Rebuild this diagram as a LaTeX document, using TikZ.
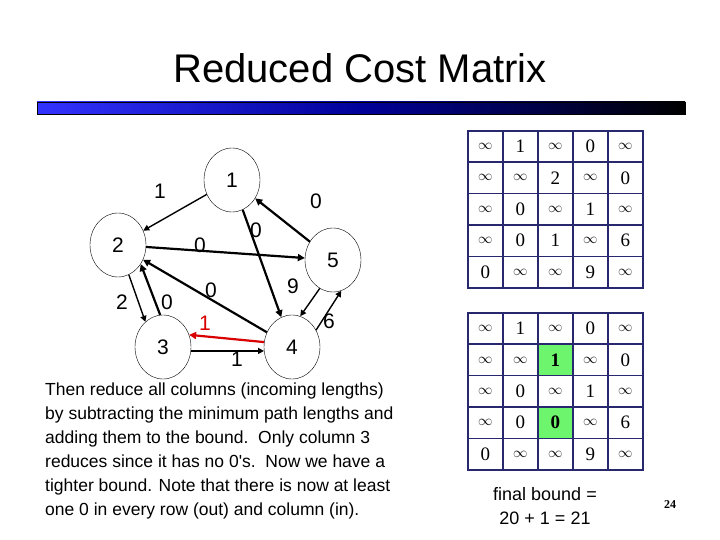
\documentclass[tikz,border=0pt]{standalone}
\usepackage{fontspec}
\setmainfont{Liberation Sans}
\newfontfamily\serifm{Liberation Serif}
\usetikzlibrary{shapes.geometric,arrows.meta}
\definecolor{grid}{RGB}{40,40,110}
\definecolor{cellgreen}{RGB}{110,245,110}
\tikzset{
 vert/.style={draw,ellipse,minimum width=56pt,minimum height=64pt,inner sep=0pt,font=\fontsize{21}{21}\selectfont},
 edge/.style={line width=2.2pt,-{Triangle[length=7pt,width=7pt]}},
 thin edge/.style={line width=1.4pt,-{Triangle[length=6pt,width=6pt]}},
 lbl/.style={font=\fontsize{21}{21}\selectfont},
 cell/.style={draw=grid,line width=1.6pt,minimum width=35pt,minimum height=31.4pt,inner sep=0pt,anchor=north west,font=\serifm\fontsize{19}{19}\selectfont},
}
\begin{document}
\begin{tikzpicture}[x=1pt,y=-1pt]
\useasboundingbox (0,0) rectangle (720,540);
\node[font=\fontsize{40}{40}\selectfont] (title) at (360,68) {Reduced Cost Matrix};
\shade[left color=blue!80,right color=black,middle color=blue!60!black,draw=black] (37,102) rectangle (685,114);
% graph
\node[vert] (n1) at (232,180) {1};
\node[vert] (n2) at (118,245) {2};
\node[vert] (n3) at (163,347) {3};
\node[vert] (n4) at (292,347) {4};
\node[vert] (n5) at (333,260) {5};
\draw[thin edge] (n1) -- (n2);
\draw[edge] (n5) -- (n1);
\draw[edge] (n1) -- (n4);
\draw[edge] (n2) -- (n5);
\draw[edge] (n4) -- (n2);
\draw[thin edge] (n2.-70) -- (n3.125);
\draw[edge] (n3.95) -- (n2.-40);
\draw[edge,red!85!black] (n4.170) -- (n3.25);
\draw[thin edge] (n3.-8) -- (n4.-172);
\draw[thin edge] (n5.-115) -- (n4.75);
\draw[thin edge] (n4.35) -- (n5.-75);
\node[lbl] (l12) at (160,191) {1};
\node[lbl] (l51) at (316,201) {0};
\node[lbl] (l14) at (256,230) {0};
\node[lbl] (l25) at (200,245) {0};
\node[lbl] (l42) at (211,290) {0};
\node[lbl] (l23) at (122,302) {2};
\node[lbl] (l32) at (167,302) {0};
\node[lbl,red!85!black] (l43) at (205,323) {1};
\node[lbl] (l34) at (237,359) {1};
\node[lbl] (l54) at (293,286) {9};
\node[lbl] (l45) at (329,321) {6};
% text
\node[anchor=north west,align=left,font=\fontsize{17.5}{24}\selectfont,inner sep=0pt] (txt) at (45,383) {Then reduce all columns (incoming lengths)\\by subtracting the minimum path lengths and\\adding them to the bound.\ \ Only column 3\\reduces since it has no 0\textquotesingle s.\ \ Now we have a\\tighter bound. Note that there is now at least\\one 0 in every row (out) and column (in).};
% matrices
\def\I{{\fontsize{14}{14}\selectfont$\infty$}}
\foreach \row [count=\j from 0] in {{\I,1,\I,0,\I},{\I,\I,2,\I,0},{\I,0,\I,1,\I},{\I,0,1,\I,6},{0,\I,\I,9,\I}}{
 \foreach \v [count=\i from 0] in \row {\node[cell] (a\j\i) at ({467+35*\i},{130+31.4*\j}) {\v};}}
\foreach \row [count=\j from 0] in {{\I,1,\I,0,\I},{\I,\I,{},\I,0},{\I,0,\I,1,\I},{\I,0,{},\I,6},{0,\I,\I,9,\I}}{
 \foreach \v [count=\i from 0] in \row {\node[cell] (b\j\i) at ({467+35*\i},{312+31.4*\j}) {\v};}}
\node[cell,fill=cellgreen] (g1) at (b12.north west) {\bfseries 1};
\node[cell,fill=cellgreen] (g2) at (b32.north west) {\bfseries 0};
\node[align=center,font=\fontsize{18}{24}\selectfont] (fb) at (545,506) {final bound =\\20 + 1 = 21};
\node[font=\serifm\bfseries\fontsize{12}{12}\selectfont] (pg) at (670,505) {24};
\end{tikzpicture}
\end{document}
